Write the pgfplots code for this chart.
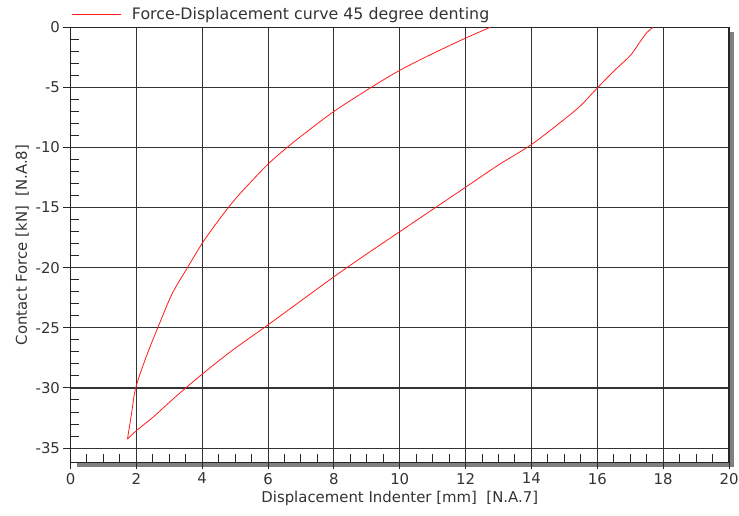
\documentclass[border=0pt]{standalone}
\usepackage{fontspec}
\setmainfont{DejaVu Sans}
\usepackage{pgfplots}
\pgfplotsset{compat=1.18}
\definecolor{txt}{HTML}{333333}
\definecolor{curve}{HTML}{FF1A1A}
\begin{document}
\begin{tikzpicture}[x=1pt,y=1pt]
\useasboundingbox (0,0) rectangle (739,516);
% frame shadow
\fill[black!50] (729.5,49.3) rectangle (733.5,484);
\fill[black!50] (77.3,49.3) rectangle (733.5,53.3);
\begin{axis}[
  at={(70.5pt,53.5pt)}, anchor=south west,
  scale only axis, width=658.5pt, height=435.2pt,
  xmin=0, xmax=20, ymin=-36.2, ymax=0,
  xtick={0,2,...,20}, ytick={-35,-30,...,0},
  minor x tick num=3, minor y tick num=4,
  tick pos=left,
  grid=major,
  major grid style={black!80, line width=1.1pt},
  axis line style={black!85, line width=1.2pt},
  tick align=outside,
  major tick length=7pt,
  minor tick length=-8.5pt,
  tick style={black!85, line width=1pt},
  /pgf/number format/assume math mode=true,
  tick label style={font=\fontsize{14.9pt}{17pt}\selectfont, text=txt},
  label style={font=\fontsize{14.9pt}{17pt}\selectfont, text=txt},
  xlabel={Displacement Indenter [mm]\ \ [N.A.7]},
  ylabel={Contact Force [kN]\ \ [N.A.8]},
  legend style={at={(0,1)}, anchor=south west, draw=none, fill=none,
    font=\fontsize{15.8pt}{18pt}\selectfont, text=txt, inner sep=0pt,
    xshift=0.5pt, yshift=4pt},
  legend image code/.code={\draw[curve, line width=0.8pt] (0pt,0pt) -- (49pt,0pt); \path (58pt,0pt);},
  legend cell align=left,
]
\addplot[curve, line width=0.8pt, smooth, tension=0.5] coordinates {
(12.75,0) (12.04,-0.85) (11.03,-2.15) (10.02,-3.55) (9.16,-4.95) (8.0,-7.0)
(7.08,-8.9) (6.62,-9.9) (6.03,-11.3) (5.5,-12.8) (5.0,-14.3) (4.54,-15.9)
(4.04,-17.8) (3.55,-20.0) (3.08,-22.2) (2.65,-25.0) (2.30,-27.4) (1.98,-30.0)
(1.85,-32.2) (1.73,-34.25)
};
\addlegendentry{Force-Displacement curve 45 degree denting}
\addplot[curve, line width=0.8pt, smooth, tension=0.5, forget plot] coordinates {
(1.73,-34.25) (2.0,-33.55) (2.5,-32.45) (3.0,-31.2) (3.5,-30.0) (4.0,-28.85)
(4.5,-27.75) (5.0,-26.7) (6.0,-24.75) (7.0,-22.75) (8.0,-20.75) (9.0,-18.85)
(10.0,-17.0) (11.0,-15.15) (12.0,-13.3) (13.0,-11.45) (14.0,-9.75) (15.0,-7.65)
(15.5,-6.5) (16.0,-5.05) (16.5,-3.65) (17.0,-2.35) (17.3,-1.2) (17.5,-0.45) (17.7,0)
};
\end{axis}
\end{tikzpicture}
\end{document}
